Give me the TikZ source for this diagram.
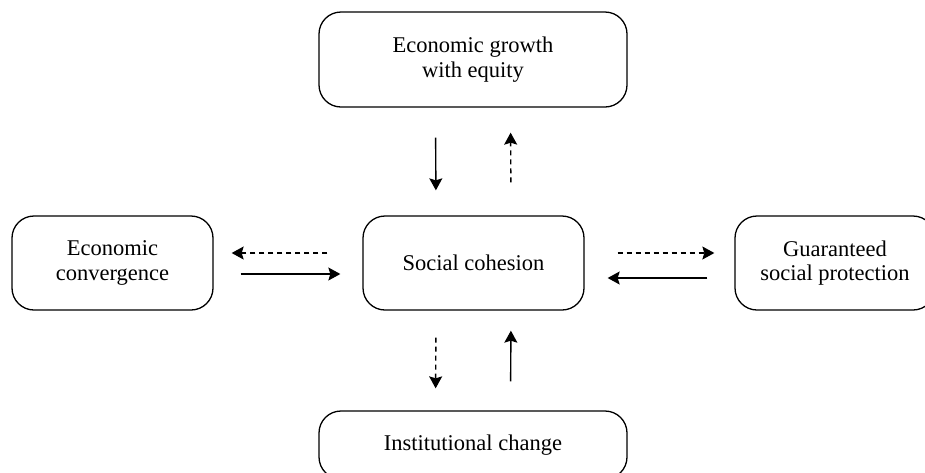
\documentclass[tikz,border=0pt]{standalone}
\usepackage{fontspec}
\setmainfont{Liberation Serif}
\usepackage{tikz}
\usetikzlibrary{arrows.meta}

\tikzset{
    cbox/.style={draw, rounded corners=22pt, line width=1.3pt, align=center, inner sep=0pt,
        font=\fontsize{22.5}{24.5}\selectfont},
    solidarr/.style={line width=1.4pt, -{Stealth[length=12pt,width=13pt,inset=2pt]}},
    dasharr/.style={solidarr, dash pattern=on 5pt off 4pt}
}

\begin{document}
\begin{tikzpicture}[x=1pt,y=1pt,yscale=-1]
        \useasboundingbox (0,0) rectangle (925,472);
        \clip (0,0) rectangle (925,472);

        % Boxes
        \node [cbox, minimum width=308, minimum height=95] (growth) at (473,59.5) {Economic growth\\with equity};
        \node [cbox, minimum width=221, minimum height=94] (cohesion) at (473.5,263) {Social cohesion};
        \node [cbox, minimum width=201, minimum height=94] (convergence) at (112.5,263) {Economic\\convergence};
        \node [cbox, minimum width=200, minimum height=94] (protection) at (835,263) {Guaranteed\\social protection};
        \node [cbox, minimum width=308, minimum height=68] (institution) at (473,445) {Institutional change};

        % Top pair
        \draw [solidarr, shorten <=30pt, shorten >=25pt] ([xshift=-37.5pt]growth.south) -- ([xshift=-37.5pt]cohesion.north);
        \draw [dasharr, shorten <=33pt, shorten >=25pt] ([xshift=37.5pt]cohesion.north) -- ([xshift=37.5pt]growth.south);

        % Bottom pair
        \draw [dasharr, shorten <=27pt, shorten >=22pt] ([xshift=-37.5pt]cohesion.south) -- ([xshift=-37.5pt]institution.north);
        \draw [solidarr, shorten <=29pt, shorten >=20pt] ([xshift=37.5pt]institution.north) -- ([xshift=37.5pt]cohesion.south);

        % Left pair
        \draw [dasharr, shorten <=35pt, shorten >=18pt] ([yshift=-10pt]cohesion.west) -- ([yshift=-10pt]convergence.east);
        \draw [solidarr, shorten <=27pt, shorten >=22pt] ([yshift=11pt]convergence.east) -- ([yshift=11pt]cohesion.west);

        % Right pair
        \draw [dasharr, shorten <=33pt, shorten >=20pt] ([yshift=-10pt]cohesion.east) -- ([yshift=-10pt]protection.west);
        \draw [solidarr, shorten <=27pt, shorten >=23pt] ([yshift=15pt]protection.west) -- ([yshift=15pt]cohesion.east);
\end{tikzpicture}
\end{document}
